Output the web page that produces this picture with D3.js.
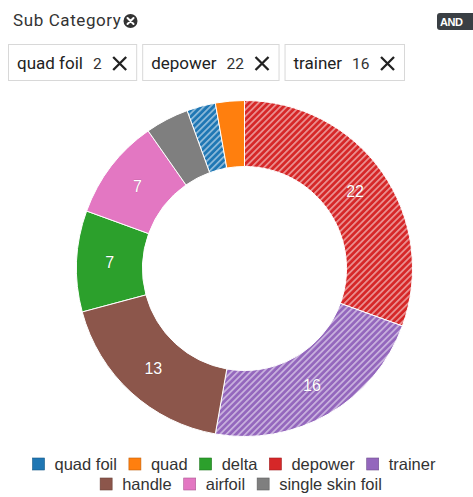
<!DOCTYPE html>
<html>
<head>
<meta charset="utf-8">
<script src="https://cdn.jsdelivr.net/npm/d3@7"></script>
<style>
  html, body { margin: 0; padding: 0; background: #fff; }
  svg { display: block; }
</style>
</head>
<body>
<svg id="chart" width="473" height="497"></svg>
<script>
// Sub category counts
const categories = ["quad foil", "quad", "delta", "depower", "trainer", "handle", "airfoil", "single skin foil"];
const counts = [2, 2, 7, 22, 16, 13, 7, 3];
const colors = ["#1f77b4", "#ff7f0e", "#2ca02c", "#d62728", "#9467bd", "#8c564b", "#e377c2", "#7f7f7f"];
// Active filters (shown as chips and hatched in the donut)
const selected = ["quad foil", "depower", "trainer"];
const filterTitle = "Sub Category";

const svg = d3.select("#chart");
const data = categories.map((c, i) => ({ name: c, value: counts[i] }));
const color = d3.scaleOrdinal().domain(categories).range(colors);

// Hatch pattern for each selected category
const defs = svg.append("defs");
selected.forEach(name => {
  const p = defs.append("pattern")
    .attr("id", "hatch-" + categories.indexOf(name))
    .attr("patternUnits", "userSpaceOnUse")
    .attr("width", 4.5).attr("height", 4.5)
    .attr("patternTransform", "rotate(45)");
  p.append("rect").attr("width", 4.5).attr("height", 4.5).attr("fill", color(name));
  p.append("rect").attr("x", 0).attr("width", 1.7).attr("height", 4.5)
    .attr("fill", "#fff").attr("fill-opacity", 0.5);
});

// Header
const title = svg.append("text")
  .attr("x", 13).attr("y", 26)
  .attr("font-family", "Roboto, sans-serif").attr("font-size", 17)
  .attr("letter-spacing", 0.6)
  .attr("fill", "#333").text(filterTitle);
const tEnd = 13 + title.node().getComputedTextLength();
const icon = svg.append("g").attr("transform", `translate(${tEnd + 9},21)`);
icon.append("circle").attr("r", 7).attr("fill", "#333");
icon.append("path").attr("d", "M-3,-3L3,3M3,-3L-3,3")
  .attr("stroke", "#fff").attr("stroke-width", 2).attr("stroke-linecap", "round");

// "AND" badge
svg.append("rect").attr("x", 437).attr("y", 13).attr("width", 40).attr("height", 17)
  .attr("rx", 3).attr("fill", "#3a3f44");
svg.append("text").attr("x", 440).attr("y", 26)
  .attr("font-family", "Liberation Sans, Arial, sans-serif").attr("font-weight", "bold")
  .attr("font-size", 11).attr("letter-spacing", -0.5).attr("fill", "#fff").text("AND");

// Filter chips
let cx = 8;
selected.forEach(name => {
  const g = svg.append("g");
  const label = g.append("text").attr("x", cx + 9).attr("y", 69)
    .attr("font-family", "Roboto, sans-serif").attr("font-size", 17)
    .attr("fill", "#222").text(name);
  const lw = label.node().getComputedTextLength();
  const num = g.append("text").attr("x", cx + 9 + lw + 10).attr("y", 69)
    .attr("font-family", "Roboto, sans-serif").attr("font-size", 15.5)
    .attr("fill", "#333").text(counts[categories.indexOf(name)]);
  const nw = num.node().getComputedTextLength();
  const xx = cx + 9 + lw + 10 + nw + 18;
  g.append("path")
    .attr("d", `M${xx - 6.5},57L${xx + 6.5},70M${xx + 6.5},57L${xx - 6.5},70`)
    .attr("stroke", "#222").attr("stroke-width", 2.3);
  const w = xx + 6.5 + 10 - cx;
  g.insert("rect", "text").attr("x", cx + 0.5).attr("y", 44.5)
    .attr("width", w).attr("height", 36)
    .attr("fill", "#fff").attr("stroke", "#d8d8d8");
  cx += w + 6;
});

// Donut
const centerX = 244.5, centerY = 268.5;
const outerR = 168, innerR = 102;
const pie = d3.pie().value(d => d.value);
const arcs = pie(data);
const arc = d3.arc().innerRadius(innerR).outerRadius(outerR);
const labelArc = d3.arc().innerRadius((innerR + outerR) / 2).outerRadius((innerR + outerR) / 2);

const g = svg.append("g").attr("transform", `translate(${centerX},${centerY})`);
g.selectAll("path.slice").data(arcs).join("path")
  .attr("class", "slice")
  .attr("d", arc)
  .attr("fill", d => selected.includes(d.data.name)
    ? `url(#hatch-${categories.indexOf(d.data.name)})` : color(d.data.name))
  .attr("stroke", "#fff").attr("stroke-width", 1);

g.selectAll("text.val").data(arcs.filter(d => d.endAngle - d.startAngle > 0.5)).join("text")
  .attr("class", "val")
  .attr("transform", d => `translate(${labelArc.centroid(d)})`)
  .attr("text-anchor", "middle").attr("dy", "0.35em")
  .attr("font-family", "Liberation Sans, Arial, sans-serif").attr("font-size", 16)
  .attr("fill", "#fff")
  .attr("stroke", "rgba(0,0,0,0.25)").attr("stroke-width", 0.6).attr("paint-order", "stroke")
  .text(d => d.value);

// Legend (two rows)
const rows = [categories.slice(0, 5), categories.slice(5)];
const rowY = [464, 484];
const rowCenter = [234, 241];
const legend = svg.append("g")
  .attr("font-family", "Liberation Sans, Arial, sans-serif").attr("font-size", 16.5).attr("fill", "#333");
rows.forEach((row, ri) => {
  const rg = legend.append("g");
  let x = 0;
  row.forEach(name => {
    rg.append("rect").attr("x", x).attr("y", rowY[ri] - 6).attr("width", 12).attr("height", 12)
      .attr("fill", color(name)).attr("stroke", d3.color(color(name)).darker(0.8)).attr("stroke-width", 0.6);
    const t = rg.append("text").attr("x", x + 22).attr("y", rowY[ri] + 6).text(name);
    x += 22 + t.node().getComputedTextLength() + 12;
  });
  const width = x - 12;
  rg.attr("transform", `translate(${rowCenter[ri] - width / 2},0)`);
});
</script>
</body>
</html>
